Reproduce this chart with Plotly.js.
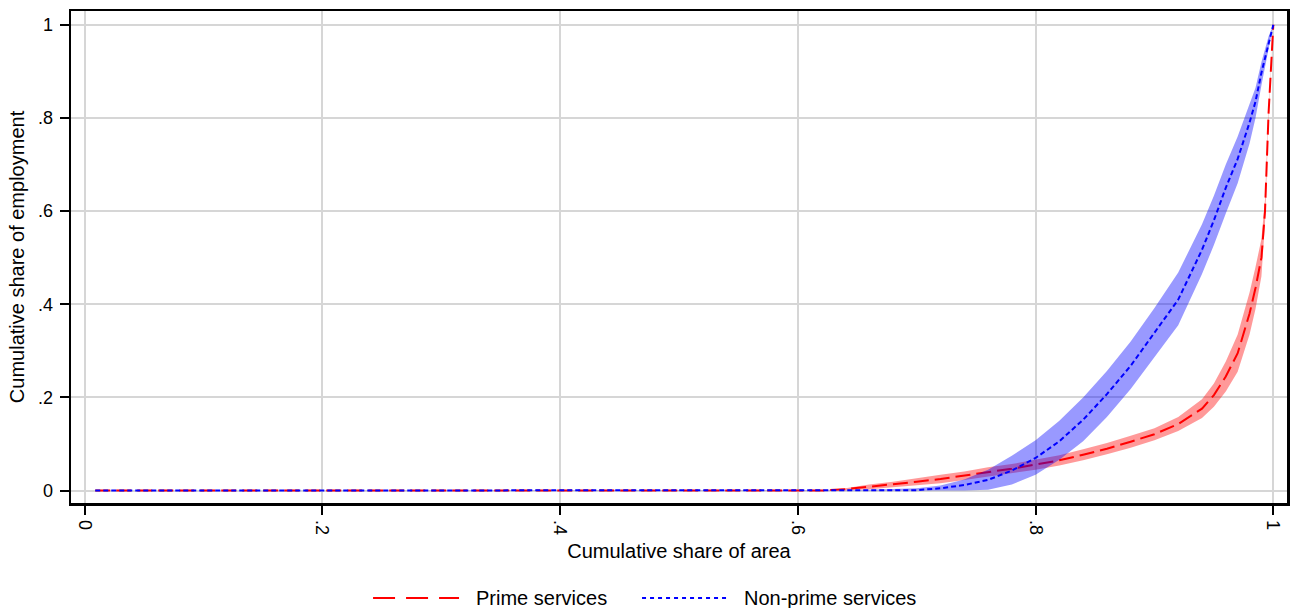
<!DOCTYPE html>
<html>
<head>
<meta charset="utf-8">
<script src="https://cdn.plot.ly/plotly-3.0.1.min.js"></script>
<style>
  html, body { margin: 0; padding: 0; background: #fff; }
  #chart { width: 1292px; height: 608px; }
</style>
</head>
<body>
<div id="chart"></div>
<script>
// Cumulative share of area (x) grid
const areaShare = [0.009, 0.1, 0.2, 0.3, 0.4, 0.5, 0.6, 0.62, 0.64, 0.66, 0.68, 0.70, 0.72, 0.74, 0.76, 0.78,
  0.80, 0.82, 0.84, 0.86, 0.88, 0.90, 0.92, 0.94, 0.95, 0.96, 0.97, 0.98, 0.985, 0.99, 0.993, 0.996, 1.0];

// Prime services: cumulative share of employment with confidence band
const primeEmp = [0, 0, 0, 0, 0, 0, 0, 0, 0.003, 0.008, 0.013, 0.019, 0.025, 0.032, 0.040, 0.047,
  0.056, 0.065, 0.077, 0.090, 0.105, 0.121, 0.143, 0.176, 0.205, 0.245, 0.295, 0.380, 0.435, 0.500, 0.600, 0.810, 1.0];
const primeHigh = [0, 0, 0, 0, 0, 0, 0, 0, 0.005, 0.013, 0.019, 0.027, 0.034, 0.041, 0.050, 0.057,
  0.067, 0.076, 0.089, 0.102, 0.118, 0.134, 0.158, 0.196, 0.230, 0.277, 0.335, 0.425, 0.480, 0.540, 0.625, 0.820, 1.0];
const primeLow = [0, 0, 0, 0, 0, 0, 0, 0, 0.001, 0.003, 0.007, 0.011, 0.016, 0.023, 0.030, 0.037,
  0.045, 0.054, 0.065, 0.078, 0.092, 0.108, 0.128, 0.156, 0.180, 0.213, 0.255, 0.335, 0.390, 0.460, 0.575, 0.800, 1.0];

// Non-prime services
const nonPrimeEmp = [0, 0, 0, 0, 0, 0, 0, 0, 0, 0, 0, 0.001, 0.005, 0.012, 0.023, 0.043,
  0.070, 0.106, 0.152, 0.207, 0.268, 0.338, 0.410, 0.517, 0.580, 0.650, 0.712, 0.790, 0.835, 0.897, 0.930, 0.962, 1.0];
const nonPrimeHigh = [0, 0, 0, 0, 0, 0, 0, 0, 0.001, 0.002, 0.003, 0.005, 0.011, 0.024, 0.045, 0.075,
  0.108, 0.150, 0.200, 0.257, 0.320, 0.392, 0.468, 0.572, 0.633, 0.700, 0.760, 0.830, 0.865, 0.920, 0.948, 0.975, 1.0];
const nonPrimeLow = [0, 0, 0, 0, 0, 0, 0, 0, 0, 0, 0, 0, 0, 0, 0.002, 0.013,
  0.034, 0.066, 0.106, 0.158, 0.218, 0.286, 0.355, 0.465, 0.527, 0.595, 0.660, 0.745, 0.800, 0.870, 0.908, 0.945, 1.0];

const tickVals = [0, 0.2, 0.4, 0.6, 0.8, 1];
const tickText = ['0', '.2', '.4', '.6', '.8', '1'];
const seriesNames = ['Prime services', 'Non-prime services'];

const FONT = 'Liberation Sans, Arial, sans-serif';

const traces = [
  { x: areaShare, y: primeLow, type: 'scatter', mode: 'lines', line: { width: 0, color: 'rgba(255,0,0,0)' },
    showlegend: false, hoverinfo: 'skip' },
  { x: areaShare, y: primeHigh, type: 'scatter', mode: 'lines', line: { width: 0, color: 'rgba(255,0,0,0)' },
    fill: 'tonexty', fillcolor: 'rgba(255,0,0,0.4)', showlegend: false, hoverinfo: 'skip' },
  { x: areaShare, y: primeEmp, type: 'scatter', mode: 'lines', name: seriesNames[0],
    line: { color: '#ff0000', width: 2, dash: '15px,6px' } },
  { x: areaShare, y: nonPrimeLow, type: 'scatter', mode: 'lines', line: { width: 0, color: 'rgba(0,0,255,0)' },
    showlegend: false, hoverinfo: 'skip' },
  { x: areaShare, y: nonPrimeHigh, type: 'scatter', mode: 'lines', line: { width: 0, color: 'rgba(0,0,255,0)' },
    fill: 'tonexty', fillcolor: 'rgba(0,0,255,0.4)', showlegend: false, hoverinfo: 'skip' },
  { x: areaShare, y: nonPrimeEmp, type: 'scatter', mode: 'lines', name: seriesNames[1],
    line: { color: '#0000ff', width: 2, dash: '5px,3px' } }
];

const axisCommon = {
  tickvals: tickVals, ticktext: tickText,
  ticks: 'outside', ticklen: 9, tickwidth: 2, tickcolor: '#000',
  showgrid: true, gridcolor: '#d6d6d6', gridwidth: 2,
  showline: true, linecolor: '#000', linewidth: 2.5, mirror: true,
  zeroline: false, tickfont: { family: FONT, size: 18, color: '#000' }
};

const layout = {
  width: 1292, height: 608,
  margin: { l: 71, r: 5, t: 11, b: 105 },
  paper_bgcolor: '#fff', plot_bgcolor: '#fff',
  font: { family: FONT, color: '#000' },
  showlegend: false,
  xaxis: Object.assign({}, axisCommon, {
    range: [-0.0114, 1.0115], tickangle: 90, ticklabelstandoff: 2,
    title: { text: 'Cumulative share of area', font: { family: FONT, size: 20, color: '#000' }, standoff: 10 }
  }),
  yaxis: Object.assign({}, axisCommon, {
    range: [-0.0266, 1.0295], tickangle: 0, ticklabelstandoff: 3,
    title: { text: 'Cumulative share of employment', font: { family: FONT, size: 20, color: '#000' }, standoff: 8 }
  }),
  shapes: [
    { type: 'line', xref: 'paper', yref: 'paper', x0: 0.2484, x1: 0.3191, y0: -0.1933, y1: -0.1933,
      line: { color: '#ff0000', width: 2, dash: '22px,11px' } },
    { type: 'line', xref: 'paper', yref: 'paper', x0: 0.4696, x1: 0.5403, y0: -0.1933, y1: -0.1933,
      line: { color: '#0000ff', width: 2, dash: '4px,4px' } }
  ],
  annotations: [
    { xref: 'paper', yref: 'paper', x: 0.3318, y: -0.1933, xanchor: 'left', yanchor: 'middle',
      text: seriesNames[0], showarrow: false, font: { family: FONT, size: 20, color: '#000' } },
    { xref: 'paper', yref: 'paper', x: 0.5518, y: -0.1933, xanchor: 'left', yanchor: 'middle',
      text: seriesNames[1], showarrow: false, font: { family: FONT, size: 20, color: '#000' } }
  ]
};

Plotly.newPlot('chart', traces, layout, { displayModeBar: false, staticPlot: true });
</script>
</body>
</html>
